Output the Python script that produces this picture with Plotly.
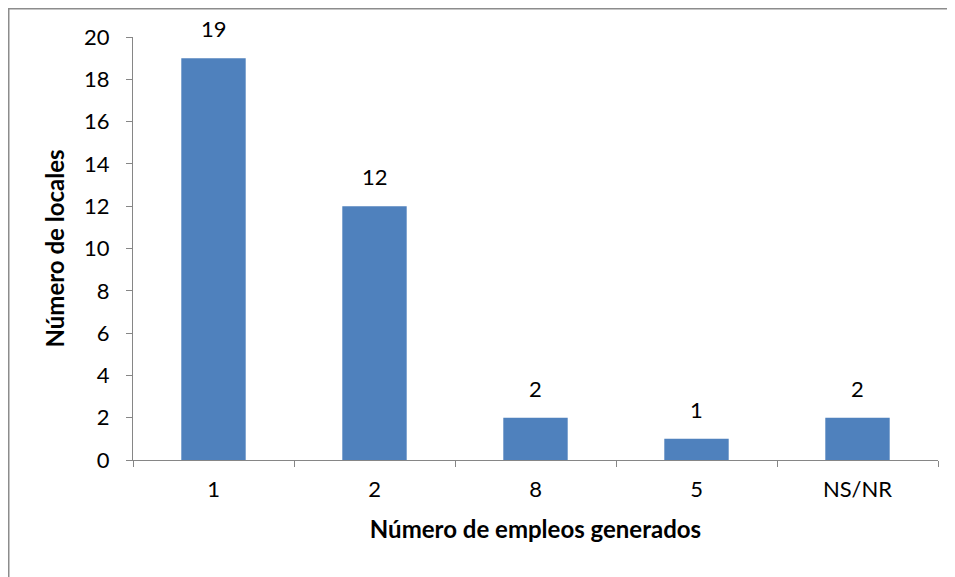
import plotly.graph_objects as go

categories = ["1", "2", "8", "5", "NS/NR"]
values = [19, 12, 2, 1, 2]
y_ticks = [0, 2, 4, 6, 8, 10, 12, 14, 16, 18, 20]

# page body has an 8px margin; compensate so the chart lands where the reference has it
OFF = 8
W, H = 955 - OFF, 577 - OFF
L, R, T, B = 133 - OFF, 17, 37 - OFF, 117
pw, ph = W - L - R, H - T - B

font_family = "Lato, 'Open Sans', sans-serif"

fig = go.Figure(go.Bar(
    x=categories,
    y=values,
    marker=dict(color="#4F81BD", line=dict(width=0)),
    hoverinfo="x+y",
))

for i, v in enumerate(values):
    fig.add_annotation(x=i, y=v, text=str(v), showarrow=False,
                       yanchor="bottom", yshift=14,
                       font=dict(size=22, color="#000000", family=font_family))

def px_x(x):
    return (x - L) / pw

def px_y(y):
    return (H - B - y) / ph

fig.add_shape(type="rect", xref="paper", yref="paper",
              x0=px_x(0.75), x1=px_x(990), y0=px_y(0.75), y1=px_y(620),
              line=dict(color="#8C8C8C", width=1.5), fillcolor="rgba(0,0,0,0)", layer="below")

fig.update_layout(
    width=W, height=H,
    margin=dict(l=L, r=R, t=T, b=B),
    paper_bgcolor="white",
    plot_bgcolor="white",
    bargap=0.6,
    showlegend=False,
    font=dict(family=font_family, size=22, color="#000000"),
    xaxis=dict(
        type="category",
        categoryorder="array", categoryarray=categories,
        range=[-0.5, len(categories) - 0.5],
        showline=True, linecolor="#868686", linewidth=1.3,
        ticks="outside", tickson="boundaries", ticklen=6, tickcolor="#868686", tickwidth=1.3,
        showgrid=False, zeroline=False,
        tickfont=dict(size=22),
        ticklabelstandoff=9,
        title=dict(text="<b>Número de empleos generados</b>", font=dict(size=24), standoff=20),
    ),
    yaxis=dict(
        range=[0, 20],
        tickvals=y_ticks,
        showline=True, linecolor="#868686", linewidth=1.3,
        ticks="outside", ticklen=6, tickcolor="#868686", tickwidth=1.3,
        showgrid=False, zeroline=False,
        tickfont=dict(size=22),
        ticklabelstandoff=12,
        title=dict(text="<b>Número de locales</b>", font=dict(size=24), standoff=12),
    ),
)

fig.write_html("out.html")
